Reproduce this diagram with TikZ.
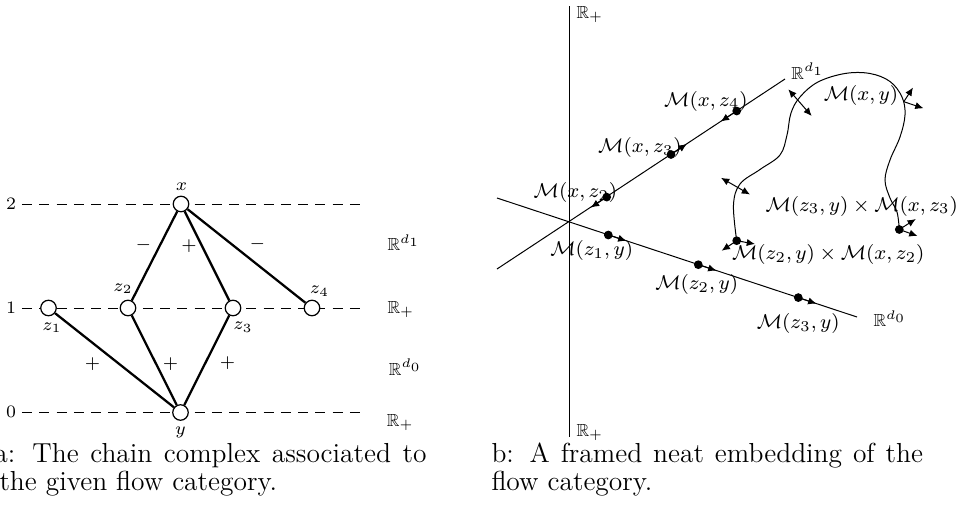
\documentclass[tikz,border=0pt]{standalone}
\usepackage{amssymb}
\usetikzlibrary{arrows.meta}
\begin{document}
\begin{tikzpicture}[x=0.4pt,y=-0.4pt,
  vert/.style={circle,draw,fill=white,minimum size=6.2pt,inner sep=0pt,line width=0.5pt},
  lvl/.style={dash pattern=on 4pt off 2.9pt,line width=0.4pt},
  edge/.style={line width=0.9pt},
  lbl/.style={font=\scriptsize,inner sep=0pt},
  axis/.style={line width=0.4pt},
  pt/.style={circle,fill=black,minimum size=3.5pt,inner sep=0pt},
  frm/.style={-{Latex[length=3.3pt,width=2.9pt]},line width=0.4pt},
  dfrm/.style={{Latex[length=3.3pt,width=2.9pt]}-{Latex[length=3.3pt,width=2.9pt]},line width=0.4pt},
  mlab/.style={font=\footnotesize,inner sep=0pt},
  captxt/.style={font=\fontsize{11}{13.5}\selectfont,inner sep=0pt,anchor=base west},
]
\useasboundingbox (0,0) rectangle (956,514);

% ---------- left figure ----------
\node[lbl] (h2) at (11,204) {2};
\node[lbl] (h1) at (11,308) {1};
\node[lbl] (h0) at (11,412) {0};
\coordinate (s2) at (22,204); \coordinate (e2) at (365,204);
\coordinate (s1) at (22,308); \coordinate (e1) at (365,308);
\coordinate (s0) at (22,412); \coordinate (e0) at (365,412);
\draw[lvl] (s2) -- (e2);
\draw[lvl] (s1) -- (e1);
\draw[lvl] (s0) -- (e0);

\node[vert] (x)  at (181,204) {};
\node[vert] (z1) at (48.5,308) {};
\node[vert] (z2) at (128,308) {};
\node[vert] (z3) at (233,308) {};
\node[vert] (z4) at (312,308) {};
\node[vert] (y)  at (180.5,412.5) {};

\draw[edge] (x) -- (z2);
\draw[edge] (x) -- (z3);
\draw[edge] (x) -- (z4);
\draw[edge] (z1) -- (y);
\draw[edge] (z2) -- (y);
\draw[edge] (z3) -- (y);

\node[lbl] (lx)  at (181.5,187) {$x$};
\node[lbl] (lz2) at (123,288.5) {$z_2$};
\node[lbl] (lz1) at (52,327.5) {$z_1$};
\node[lbl] (lz3) at (243,327) {$z_3$};
\node[lbl] (lz4) at (319.5,291) {$z_4$};
\node[lbl] (ly)  at (180.5,432) {$y$};

\node[lbl] (s1m) at (143.5,245) {$-$};
\node[lbl] (s2p) at (189,246.5) {$+$};
\node[lbl] (s3m) at (257.5,244.5) {$-$};
\node[lbl] (s4p) at (92.5,364) {$+$};
\node[lbl] (s5p) at (170.5,364) {$+$};
\node[lbl] (s6p) at (227.5,363.5) {$+$};

\node[lbl,anchor=base west] (r1) at (387,250.7) {$\mathbb{R}^{d_1}$};
\node[lbl,anchor=base west] (r2) at (387,313.3) {$\mathbb{R}_+$};
\node[lbl,anchor=base west] (r3) at (388.5,375) {$\mathbb{R}^{d_0}$};
\node[lbl,anchor=base west] (r4) at (386.5,426) {$\mathbb{R}_+$};

% ---------- right figure ----------
\coordinate (vt) at (569,6);  \coordinate (vb) at (569,437);
\coordinate (a1) at (497,269); \coordinate (a2) at (785,79);
\coordinate (b1) at (497,198); \coordinate (b2) at (857,317);
\draw[axis] (vt) -- (vb);
\draw[axis] (a1) -- (a2);
\draw[axis] (b1) -- (b2);

\node[lbl,anchor=base west] (rt) at (576,18.3) {$\mathbb{R}_+$};
\node[lbl,anchor=base west] (rb) at (576,436) {$\mathbb{R}_+$};
\node[lbl,anchor=base west] (rd1) at (791,79) {$\mathbb{R}^{d_1}$};
\node[lbl,anchor=base west] (rd0) at (873,326.7) {$\mathbb{R}^{d_0}$};

% points on d1 axis
\node[pt] (pxz2) at (606.7,197.1) {};
\node[pt] (pxz3) at (671,154.5) {};
\node[pt] (pxz4) at (736.7,111) {};
\coordinate (txz2) at (590.9,207.5);
\coordinate (txz3) at (686.8,144);
\coordinate (txz4) at (720.8,121.5);
\draw[frm] (pxz2.center) -- (txz2);
\draw[frm] (pxz3.center) -- (txz3);
\draw[frm] (pxz4.center) -- (txz4);

% points on d0 axis
\node[pt] (pz1y) at (608.3,235) {};
\node[pt] (pz2y) at (698.3,264.7) {};
\node[pt] (pz3y) at (798.3,297.6) {};
\coordinate (tz1y) at (626.4,240.9);
\coordinate (tz2y) at (716.4,270.6);
\coordinate (tz3y) at (816.4,303.6);
\draw[frm] (pz1y.center) -- (tz1y);
\draw[frm] (pz2y.center) -- (tz2y);
\draw[frm] (pz3y.center) -- (tz3y);

% curve M(x,y)
\node[pt] (cA) at (736.7,240.7) {};
\node[pt] (cB) at (899.3,229.5) {};
\draw[axis] plot[smooth,tension=0.6] coordinates {
  (736.7,240.7) (733.5,205) (740,184) (760,169.5) (780,155) (787,135)
  (791,113) (800,97) (818,82) (845,73.5) (870,73.5) (890,81.5)
  (902,97) (905,115) (900,137) (890,160) (885,180) (890,198)
  (897,212) (899.3,229.5)};

% framing arrows on curve
\coordinate (f1a) at (788.3,89.3); \coordinate (f1b) at (811.7,116);
\draw[dfrm] (f1a) -- (f1b);
\coordinate (f2a) at (721,177.8); \coordinate (f2b) at (750,194.5);
\draw[dfrm] (f2a) -- (f2b);
\coordinate (f3o) at (903.8,101.7);
\coordinate (f3a) at (913,87.5); \coordinate (f3b) at (923.5,108.3);
\draw[frm] (f3o) -- (f3a);
\draw[frm] (f3o) -- (f3b);
\coordinate (f4a) at (915.8,219); \coordinate (f4b) at (917.5,236);
\draw[frm] (cB.center) -- (f4a);
\draw[frm] (cB.center) -- (f4b);
\coordinate (f5a) at (721.7,250.7); \coordinate (f5b) at (755,244);
\draw[frm] (cA.center) -- (f5a);
\draw[frm] (cA.center) -- (f5b);

% labels
\node[mlab] (mxz2) at (575.5,192.5) {$\mathcal{M}(x,z_2)$};
\node[mlab] (mxz3) at (640,147.5) {$\mathcal{M}(x,z_3)$};
\node[mlab] (mxz4) at (706,101) {$\mathcal{M}(x,z_4)$};
\node[mlab] (mz1y) at (591.7,250.5) {$\mathcal{M}(z_1,y)$};
\node[mlab] (mz2y) at (696.7,284.7) {$\mathcal{M}(z_2,y)$};
\node[mlab] (mz3y) at (798.3,323.3) {$\mathcal{M}(z_3,y)$};
\node[mlab] (mxy)  at (861,95.8) {$\mathcal{M}(x,y)$};
\node[mlab] (mp3)  at (861.7,206) {$\mathcal{M}(z_3,y)\times\mathcal{M}(x,z_3)$};
\node[mlab] (mp2)  at (828.3,254.7) {$\mathcal{M}(z_2,y)\times\mathcal{M}(x,z_2)$};

% ---------- captions ----------
\node[captxt] (ca1) at (-6,462) {\makebox[172.8pt][s]{a: The chain complex associated to}};
\node[captxt] (ca2) at (-1,490) {the given flow category.};
\node[captxt] (cb1) at (491,462) {\makebox[172.6pt][s]{b: A framed neat embedding of the}};
\node[captxt] (cb2) at (491,490) {flow category.};
\end{tikzpicture}
\end{document}
